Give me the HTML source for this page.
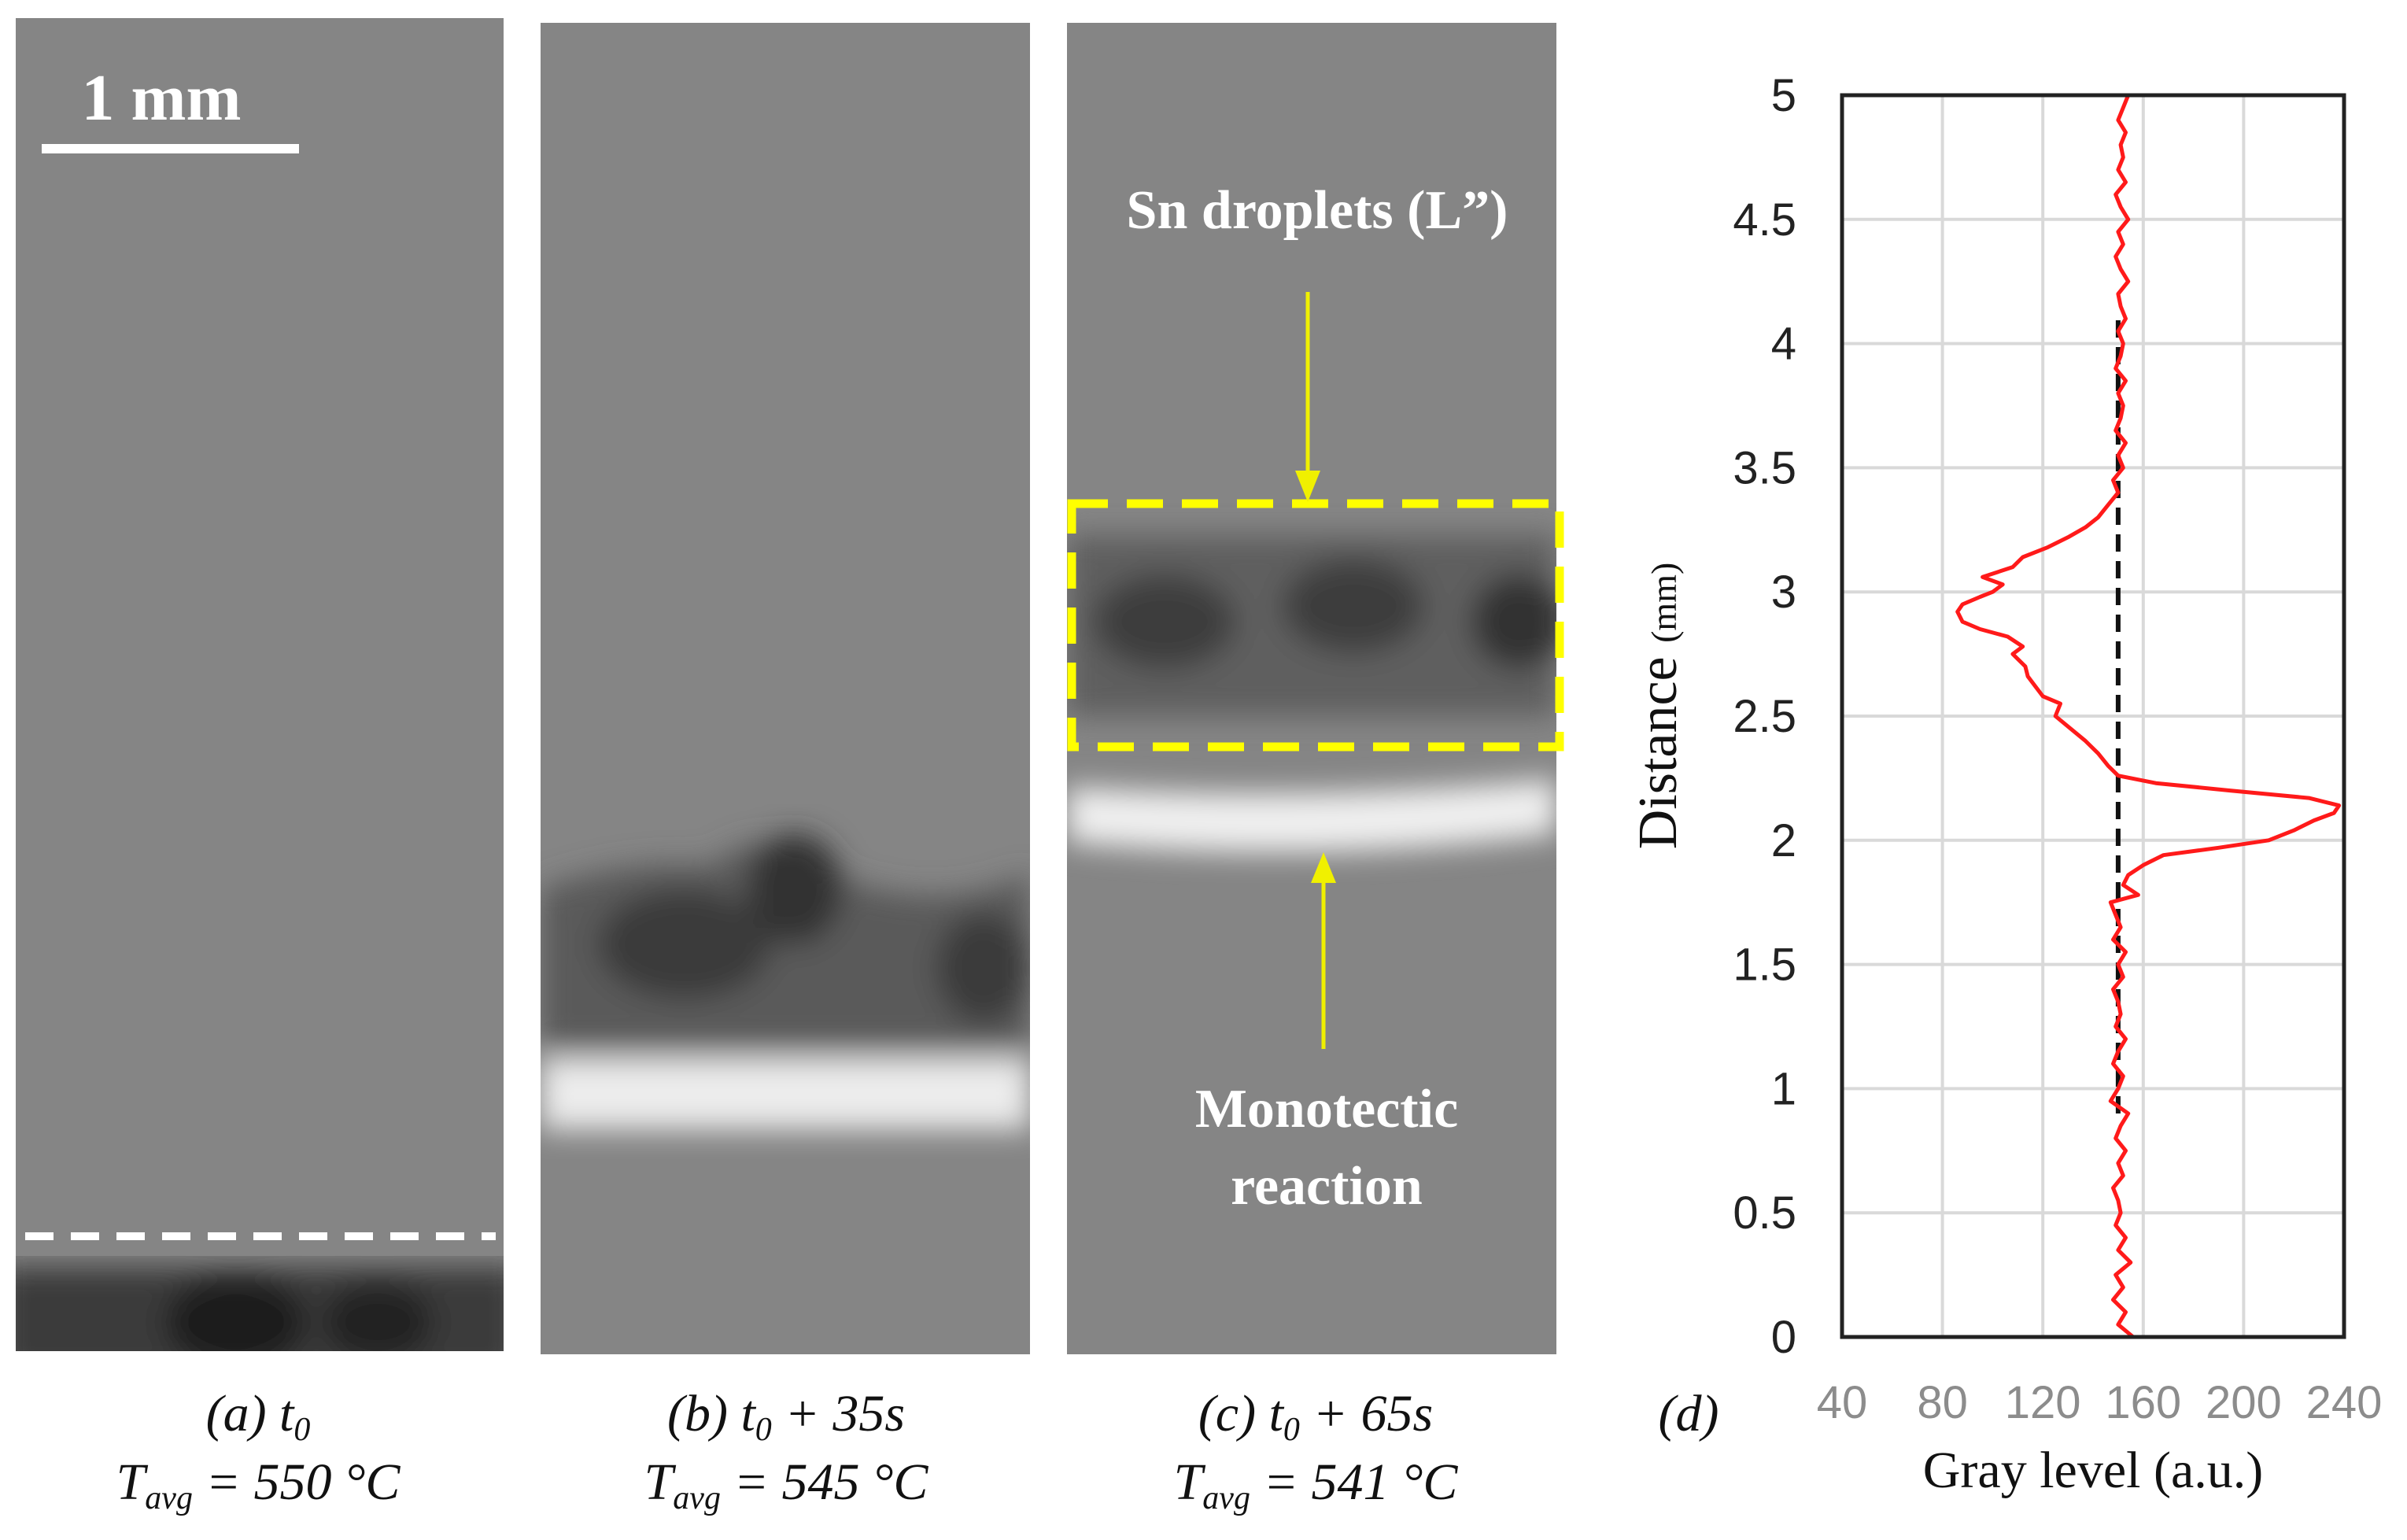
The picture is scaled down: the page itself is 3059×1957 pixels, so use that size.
<!DOCTYPE html>
<html><head><meta charset="utf-8">
<style>
html,body{margin:0;padding:0;background:#fff;}
body{width:3059px;height:1957px;position:relative;overflow:hidden;font-family:"Liberation Serif",serif;}
svg{position:absolute;left:0;top:0;}
</style></head>
<body>
<svg width="3059" height="1957" viewBox="0 0 3059 1957">
<defs>
<filter id="noise" x="0" y="0" width="100%" height="100%">
<feTurbulence type="fractalNoise" baseFrequency="0.9" numOctaves="1" seed="3" result="t"/>
<feColorMatrix in="t" type="matrix" values="0 0 0 0 0.54  0 0 0 0 0.54  0 0 0 0 0.54  0.9 0 0 0 -0.2" result="n"/>
<feComposite in="n" in2="SourceGraphic" operator="in"/>
</filter>
<filter id="blur"><feGaussianBlur stdDeviation="18"/></filter>
<clipPath id="ca"><rect x="20" y="23" width="620" height="1694"/></clipPath>
<clipPath id="cb"><rect x="687" y="29" width="622" height="1692"/></clipPath>
<clipPath id="cc"><rect x="1356" y="29" width="622" height="1692"/></clipPath>
</defs>

<g clip-path="url(#ca)">
<rect x="20" y="23" width="620" height="1694" fill="#858585"/>
<g filter="url(#blur)"><rect x="0" y="1610" width="660" height="140" fill="#3a3a3a"/>
<ellipse cx="300" cy="1680" rx="90" ry="60" fill="#1a1a1a"/><ellipse cx="480" cy="1680" rx="70" ry="50" fill="#222"/></g>
<line x1="32" y1="1571" x2="630" y2="1571" stroke="#fff" stroke-width="10" stroke-dasharray="36,22"/>
<rect x="53" y="183" width="327" height="12" fill="#fff"/>
<text x="205" y="152" font-size="84" font-weight="bold" fill="#fff" text-anchor="middle">1 mm</text>
</g>

<g clip-path="url(#cb)">
<rect x="687" y="29" width="622" height="1692" fill="#858585"/>
<g filter="url(#blur)">
<path d="M687 1130 Q800 1090 900 1100 Q1000 1030 1080 1120 Q1200 1160 1309 1110 L1309 1330 L687 1330 Z" fill="#5a5a5a"/>
<ellipse cx="870" cy="1200" rx="110" ry="70" fill="#3a3a3a"/><ellipse cx="1010" cy="1130" rx="60" ry="70" fill="#333"/><ellipse cx="1250" cy="1230" rx="60" ry="70" fill="#3a3a3a"/>
<rect x="687" y="1345" width="622" height="90" fill="#ececec"/></g>
</g>

<g clip-path="url(#cc)">
<rect x="1356" y="29" width="622" height="1692" fill="#858585"/>
<g filter="url(#blur)">
<rect x="1356" y="680" width="622" height="230" fill="#5e5e5e"/>
<ellipse cx="1480" cy="790" rx="90" ry="60" fill="#3e3e3e"/><ellipse cx="1720" cy="770" rx="90" ry="60" fill="#3e3e3e"/><ellipse cx="1930" cy="790" rx="60" ry="60" fill="#333"/>
<path d="M1356 1000 Q1660 1020 1978 990 L1978 1060 Q1660 1100 1356 1070 Z" fill="#efefef"/></g>
</g>
<rect x="1362" y="640" width="620" height="309" fill="none" stroke="#ffff00" stroke-width="11" stroke-dasharray="46,24"/>
<line x1="1662" y1="371" x2="1662" y2="600" stroke="#f0f000" stroke-width="5"/>
<polygon points="1646,598 1678,598 1662,638" fill="#f0f000"/>
<line x1="1682" y1="1120" x2="1682" y2="1333" stroke="#f0f000" stroke-width="5"/>
<polygon points="1666,1122 1698,1122 1682,1083" fill="#f0f000"/>
<text x="1674" y="290" font-size="70" font-weight="bold" fill="#fff" text-anchor="middle">Sn droplets (L”)</text>
<text x="1686" y="1432" font-size="70" font-weight="bold" fill="#fff" text-anchor="middle">Monotectic</text>
<text x="1686" y="1530" font-size="70" font-weight="bold" fill="#fff" text-anchor="middle">reaction</text>

<g font-size="66" font-style="italic" fill="#111" text-anchor="middle">
<text x="328" y="1818">(a) t<tspan font-size="42" dy="12">0</tspan></text>
<text x="328" y="1905">T<tspan font-size="42" dy="12">avg</tspan><tspan dy="-12"> = 550 °C</tspan></text>
<text x="999" y="1818">(b) t<tspan font-size="42" dy="12">0</tspan><tspan dy="-12"> + 35s</tspan></text>
<text x="999" y="1905">T<tspan font-size="42" dy="12">avg</tspan><tspan dy="-12"> = 545 °C</tspan></text>
<text x="1672" y="1818">(c) t<tspan font-size="42" dy="12">0</tspan><tspan dy="-12"> + 65s</tspan></text>
<text x="1672" y="1905">T<tspan font-size="42" dy="12">avg</tspan><tspan dy="-12"> = 541 °C</tspan></text>
<text x="2146" y="1818">(d)</text>
</g>

<g id="chart"></g>
</svg>
<script>
const xTicks=[40,80,120,160,200,240];
const yTicks=[0,0.5,1,1.5,2,2.5,3,3.5,4,4.5,5];
const yTickLabels=["0","0.5","1","1.5","2","2.5","3","3.5","4","4.5","5"];
const distance=[0,0.05,0.1,0.15,0.2,0.25,0.3,0.35,0.4,0.45,0.5,0.55,0.6,0.65,0.7,0.75,0.8,0.85,0.9,0.95,1,1.05,1.1,1.15,1.2,1.25,1.3,1.35,1.4,1.45,1.5,1.55,1.6,1.65,1.7,1.75,1.78,1.82,1.86,1.9,1.94,1.97,2.0,2.04,2.08,2.11,2.14,2.17,2.2,2.23,2.26,2.3,2.35,2.4,2.45,2.5,2.55,2.58,2.62,2.66,2.7,2.75,2.78,2.82,2.85,2.88,2.92,2.95,2.98,3.0,3.03,3.06,3.1,3.14,3.18,3.22,3.26,3.3,3.35,3.4,3.45,3.5,3.55,3.6,3.65,3.7,3.75,3.8,3.85,3.9,3.95,4.0,4.05,4.1,4.15,4.2,4.25,4.3,4.35,4.4,4.45,4.5,4.55,4.6,4.65,4.7,4.75,4.8,4.85,4.9,4.95,5.0];
const grayLevel=[156,150,153,148,152,149,155,150,153,149,151,150,148,152,150,153,149,151,154,147,150,152,148,150,153,149,151,150,148,152,150,153,148,151,149,147,158,152,154,160,168,190,210,220,228,236,238,226,195,165,150,146,142,137,131,125,127,120,117,114,113,108,112,106,95,88,86,88,95,100,104,96,108,112,122,130,137,142,146,150,148,152,150,153,149,151,152,150,153,149,151,152,150,153,151,150,154,151,149,152,150,154,151,149,153,150,152,151,153,150,152,154];
const dashX=150, dashY0=0.9, dashY1=4.1;

const L=2341,R=2979,T=121,B=1699;
const xs=v=>L+(v-40)/200*(R-L);
const ys=v=>B-v/5*(B-T);
const NS="http://www.w3.org/2000/svg";
const g=document.getElementById('chart');
function mk(tag,attrs){const e=document.createElementNS(NS,tag);for(const k in attrs)e.setAttribute(k,attrs[k]);g.appendChild(e);return e;}
const bg=mk('rect',{x:L,y:T,width:R-L,height:B-T,fill:'#fff'});


xTicks.forEach(v=>{
  const ln=mk('line',{x1:xs(v),x2:xs(v),y1:T,y2:B,stroke:'#d9d9d9','stroke-width':4});
  
  
  const t=mk('text',{x:xs(v),y:1802,'font-size':58,'text-anchor':'middle',fill:'#8c8c8c','font-family':'Liberation Sans, sans-serif'});
  t.textContent=v;
  
  
});
yTicks.forEach((v,i)=>{
  const ln=mk('line',{x1:L,x2:R,y1:ys(v),y2:ys(v),stroke:'#d9d9d9','stroke-width':4});
  
  
  const t=mk('text',{x:2283,y:ys(v)+20,'font-size':58,'text-anchor':'end',fill:'#222','font-family':'Liberation Sans, sans-serif'});
  t.textContent=yTickLabels[i];
  
  
});
const dash=mk('line',{x1:xs(dashX),x2:xs(dashX),y1:ys(dashY0),y2:ys(dashY1),stroke:'#111','stroke-width':6,'stroke-dasharray':'22,12'});


const pts=distance.map((d,i)=>xs(grayLevel[i]).toFixed(1)+','+ys(d).toFixed(1)).join(' ');
const pl=mk('polyline',{points:pts,fill:'none',stroke:'#ff1a1a','stroke-width':5,'stroke-linejoin':'round'});


const fr=mk('rect',{x:L,y:T,width:R-L,height:B-T,fill:'none',stroke:'#222','stroke-width':5});


const xt=mk('text',{x:2660,y:1890,'font-size':66,'text-anchor':'middle',fill:'#111'});
xt.textContent='Gray level (a.u.)';


const yt=mk('text',{x:0,y:0,'font-size':70,'text-anchor':'middle',fill:'#111',transform:'translate(2130,897) rotate(-90)'});
yt.innerHTML='Distance <tspan font-size="46">(mm)</tspan>';


</script>
</body></html>
